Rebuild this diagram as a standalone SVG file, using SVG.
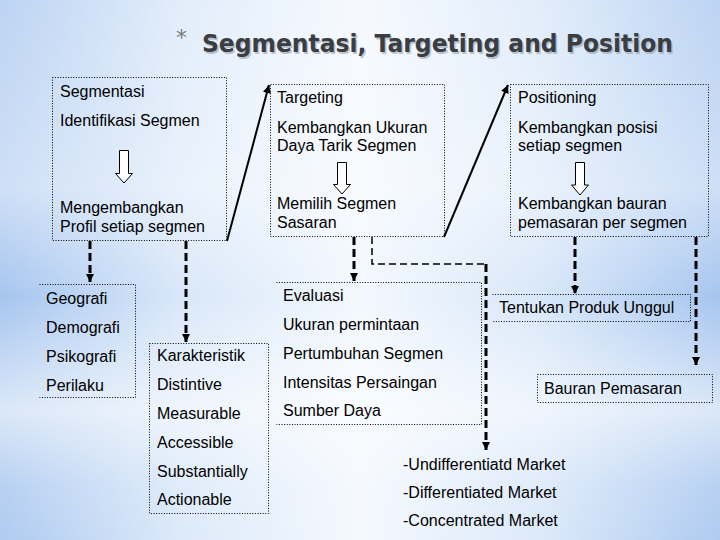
<svg xmlns="http://www.w3.org/2000/svg" width="720" height="540" viewBox="0 0 720 540">
<defs>
<linearGradient id="bgx" x1="0" y1="0" x2="1" y2="0">
<stop offset="0" stop-color="#a6c5ef"/>
<stop offset="0.25" stop-color="#d8e7f9"/>
<stop offset="0.5" stop-color="#f3f8fe"/>
<stop offset="0.75" stop-color="#d8e7f9"/>
<stop offset="1" stop-color="#a6c5ef"/>
</linearGradient>
<linearGradient id="bgy" x1="0" y1="0" x2="0" y2="1">
<stop offset="0" stop-color="#ffffff" stop-opacity="0.25"/>
<stop offset="0.35" stop-color="#ffffff" stop-opacity="0.45"/>
<stop offset="0.55" stop-color="#ffffff" stop-opacity="0"/>
<stop offset="0.76" stop-color="#ffffff" stop-opacity="0.6"/>
<stop offset="0.9" stop-color="#ffffff" stop-opacity="0.2"/>
<stop offset="1" stop-color="#ffffff" stop-opacity="0.1"/>
</linearGradient>
<marker id="ah" viewBox="0 0 10 10" refX="10" refY="5" markerWidth="8" markerHeight="8" markerUnits="userSpaceOnUse" orient="auto">
<path d="M0,0 L10,5 L0,10 z" fill="#000"/>
</marker>
<marker id="ahs" viewBox="0 0 10 10" refX="10" refY="5" markerWidth="9" markerHeight="8" markerUnits="userSpaceOnUse" orient="auto">
<path d="M0,0 L10,5 L0,10 z" fill="#000"/>
</marker>
</defs>
<style>
.t{font-family:"Liberation Sans",Arial,sans-serif;font-size:16px;fill:#000}
.box{fill:none;stroke:#000;stroke-width:1;stroke-dasharray:1 1.6}
.hol{fill:#fff;stroke:#000;stroke-width:1}
.dash{fill:none;stroke:#000;stroke-width:3;stroke-dasharray:8 4}
.solid{fill:none;stroke:#000;stroke-width:2}
</style>
<rect width="720" height="540" fill="url(#bgx)"/>
<rect width="720" height="540" fill="url(#bgy)"/>

<g id="title">
<text x="176" y="45" font-family="'DejaVu Sans',sans-serif" font-size="22" fill="#7a7a7a">*</text>
<text x="203.5" y="53.5" font-family="'DejaVu Sans',sans-serif" font-weight="bold" font-size="24" textLength="471" lengthAdjust="spacingAndGlyphs" fill="#9aa3ad" opacity="0.6">Segmentasi, Targeting and Position</text>
<text x="202" y="52" font-family="'DejaVu Sans',sans-serif" font-weight="bold" font-size="24" textLength="471" lengthAdjust="spacingAndGlyphs" fill="#3a3d42">Segmentasi, Targeting and Position</text>
</g>

<g id="segmentasi">
<rect class="box" x="52.5" y="77.5" width="174" height="163"/>
<text class="t" x="60" y="97">Segmentasi</text>
<text class="t" x="60" y="126">Identifikasi Segmen</text>
<path class="hol" d="M119.5,150.5 H128.5 V173.5 H132.5 L124,183 L115.5,173.5 H119.5 Z"/>
<text class="t" x="60" y="213">Mengembangkan</text>
<text class="t" x="60" y="232">Profil setiap segmen</text>
</g>

<g id="targeting">
<rect class="box" x="270.5" y="84.5" width="174" height="152"/>
<text class="t" x="277" y="103">Targeting</text>
<text class="t" x="277" y="133">Kembangkan Ukuran</text>
<text class="t" x="277" y="151">Daya Tarik Segmen</text>
<path class="hol" d="M337.5,162.5 H346.5 V184.5 H350.5 L342,194 L333.5,184.5 H337.5 Z"/>
<text class="t" x="277" y="209">Memilih Segmen</text>
<text class="t" x="277" y="228">Sasaran</text>
</g>

<g id="positioning">
<rect class="box" x="510.5" y="84.5" width="198" height="152"/>
<text class="t" x="518" y="103">Positioning</text>
<text class="t" x="518" y="133">Kembangkan posisi</text>
<text class="t" x="518" y="151">setiap segmen</text>
<path class="hol" d="M575.5,162.5 H584.5 V185 H588.5 L580,195 L571.5,185 H575.5 Z"/>
<text class="t" x="518" y="209">Kembangkan bauran</text>
<text class="t" x="518" y="228">pemasaran per segmen</text>
</g>

<g id="geografi">
<path class="box" d="M39.5,284.5 H135.5 V397.5 H39.5"/>
<text class="t" x="46" y="304">Geografi</text>
<text class="t" x="46" y="333">Demografi</text>
<text class="t" x="46" y="362">Psikografi</text>
<text class="t" x="46" y="391">Perilaku</text>
</g>

<g id="karakteristik">
<rect class="box" x="149.5" y="343.5" width="119" height="170"/>
<text class="t" x="157" y="361">Karakteristik</text>
<text class="t" x="157" y="390">Distintive</text>
<text class="t" x="157" y="419">Measurable</text>
<text class="t" x="157" y="448">Accessible</text>
<text class="t" x="157" y="477">Substantially</text>
<text class="t" x="157" y="505">Actionable</text>
</g>

<g id="evaluasi">
<path class="box" d="M276.5,282.5 H481.5 V424.5 H276.5"/>
<text class="t" x="283" y="301">Evaluasi</text>
<text class="t" x="283" y="330">Ukuran permintaan</text>
<text class="t" x="283" y="359">Pertumbuhan Segmen</text>
<text class="t" x="283" y="388">Intensitas Persaingan</text>
<text class="t" x="283" y="416">Sumber Daya</text>
</g>

<g id="produk">
<path class="box" d="M492.5,294.5 H690.5 V321.5 H492.5"/>
<text class="t" x="499" y="313">Tentukan Produk Unggul</text>
</g>

<g id="bauran">
<rect class="box" x="537.5" y="374.5" width="175" height="28"/>
<text class="t" x="544" y="394">Bauran Pemasaran</text>
</g>

<g id="market">
<text class="t" x="403" y="470">-Undifferentiatd Market</text>
<text class="t" x="403" y="498">-Differentiated Market</text>
<text class="t" x="403" y="526">-Concentrated Market</text>
</g>

<g id="connectors">
<line class="solid" x1="227" y1="241" x2="269" y2="85" marker-end="url(#ahs)"/>
<line class="solid" x1="444" y1="237" x2="508" y2="85" marker-end="url(#ahs)"/>
<line class="dash" x1="90" y1="241" x2="90" y2="282" marker-end="url(#ah)"/>
<line class="dash" x1="186" y1="241" x2="186" y2="342" marker-end="url(#ah)"/>
<line class="dash" x1="354" y1="237" x2="354" y2="281" marker-end="url(#ah)"/>
<path fill="none" stroke="#000" stroke-width="1.5" stroke-dasharray="7 4" d="M372,237 V264 H486"/>
<line class="dash" x1="486" y1="264" x2="486" y2="450" marker-end="url(#ah)"/>
<line class="dash" x1="575" y1="237" x2="575" y2="294" marker-end="url(#ah)"/>
<line class="dash" x1="696" y1="237" x2="696" y2="365" marker-end="url(#ah)"/>
</g>
</svg>
